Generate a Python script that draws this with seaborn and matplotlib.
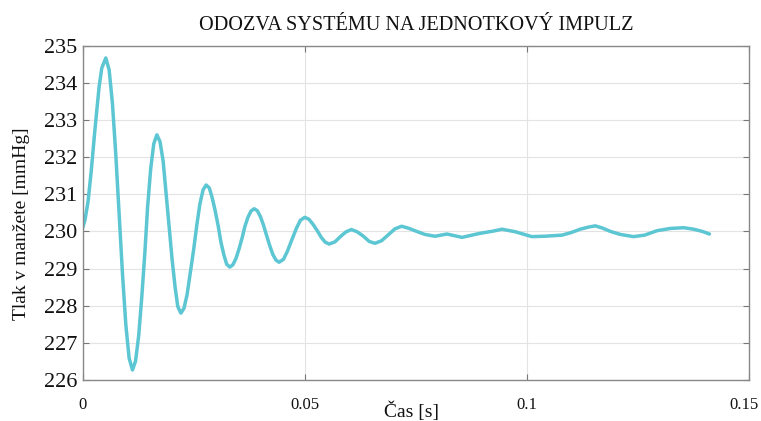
import matplotlib
matplotlib.use("Agg")
import matplotlib.pyplot as plt
import matplotlib.transforms as mtransforms
import seaborn as sns
import pandas as pd

# Time [s] and pressure [mmHg]
time_s = [
    0.0, 0.0005, 0.0012, 0.0019, 0.0028, 0.0037, 0.0043, 0.0052,
    0.00595, 0.0067, 0.00745, 0.0082, 0.00895, 0.0097, 0.01045, 0.0112,
    0.0119, 0.0126, 0.0133, 0.0140, 0.0146, 0.0153, 0.0160, 0.0167,
    0.0174, 0.0181, 0.0187, 0.0194, 0.0201, 0.0208, 0.0214, 0.0221,
    0.0228, 0.0235, 0.0242, 0.0250, 0.0257, 0.0264, 0.0271, 0.0278,
    0.0285, 0.0291, 0.0298, 0.0305, 0.0311, 0.0318, 0.0324, 0.0331,
    0.0338, 0.0345, 0.0352, 0.0359, 0.0365, 0.0372, 0.0379, 0.0386,
    0.0393, 0.0400, 0.0407, 0.0414, 0.0421, 0.0428, 0.0435, 0.0442,
    0.0452, 0.0461, 0.0471, 0.0481, 0.0490, 0.0500,
    0.0509, 0.0518, 0.0528, 0.0537, 0.0546, 0.0555,
    0.0568, 0.0580, 0.0593, 0.0605,
    0.0618, 0.0632, 0.0645, 0.0658,
    0.0673, 0.0688, 0.0703, 0.0718,
    0.0735, 0.0752, 0.0770, 0.0793, 0.0820, 0.0854, 0.0895, 0.0925,
    0.0944, 0.0974, 0.1011, 0.1040, 0.1079, 0.1100, 0.1120, 0.1140,
    0.1154, 0.1170, 0.1188, 0.1210, 0.1240, 0.1265, 0.1293, 0.1323,
    0.1353, 0.1375, 0.1395, 0.1411,
]
pressure_mmhg = [
    230.10, 230.30, 230.80, 231.60, 232.80, 233.90, 234.40, 234.67,
    234.35, 233.44, 232.07, 230.47, 228.87, 227.50, 226.59, 226.27,
    226.51, 227.19, 228.23, 229.44, 230.64, 231.68, 232.36, 232.60,
    232.42, 231.90, 231.12, 230.20, 229.28, 228.50, 227.98, 227.80,
    227.93, 228.30, 228.87, 229.53, 230.18, 230.75, 231.12, 231.25,
    231.17, 230.93, 230.57, 230.15, 229.72, 229.36, 229.12, 229.04,
    229.10, 229.27, 229.53, 229.83, 230.13, 230.38, 230.55, 230.61,
    230.56, 230.40, 230.17, 229.89, 229.62, 229.38, 229.23, 229.17,
    229.25, 229.47, 229.78, 230.08, 230.30, 230.38,
    230.33, 230.20, 230.02, 229.84, 229.71, 229.66,
    229.72, 229.86, 229.99, 230.05,
    229.99, 229.87, 229.73, 229.68,
    229.75, 229.91, 230.07, 230.14,
    230.08, 230.00, 229.92, 229.87, 229.93, 229.84, 229.95, 230.01,
    230.06, 229.99, 229.86, 229.87, 229.90, 229.97, 230.06, 230.12,
    230.15, 230.09, 230.00, 229.92, 229.86, 229.90, 230.02, 230.08,
    230.10, 230.06, 230.00, 229.93,
]

x_ticks = [0, 0.05, 0.1, 0.15]
x_tick_labels = ["0", "0.05", "0.1", "0.15"]
y_ticks = [226, 227, 228, 229, 230, 231, 232, 233, 234, 235]

title = "ODOZVA SYSTÉMU NA JEDNOTKOVÝ IMPULZ"
x_label = "Čas [s]"
y_label = "Tlak v manžete [mmHg]"

df = pd.DataFrame({"t": time_s, "p": pressure_mmhg})

sns.set_theme(style="white")
plt.rcParams["font.family"] = ["Liberation Serif", "DejaVu Serif"]

fig = plt.figure(figsize=(7.61, 4.21), dpi=100)
ax = fig.add_axes([82.7 / 761, 1 - 380 / 421, (749 - 82.7) / 761, (380 - 45.7) / 421])

sns.lineplot(data=df, x="t", y="p", ax=ax, color="#5CC6D3", linewidth=2.5,
             sort=False, estimator=None)

ax.set_xlim(0, 0.15)
ax.set_ylim(226, 235)
ax.set_xticks(x_ticks)
ax.set_xticklabels(x_tick_labels, fontsize=12)
ax.set_yticks(y_ticks)
ax.set_yticklabels([str(v) for v in y_ticks], fontsize=16)

ax.grid(True, color="#e3e3e3", linewidth=0.8)
for s in ax.spines.values():
    s.set_color("#888888")
    s.set_linewidth(1.0)
    s.set_visible(True)

ax.tick_params(axis="both", direction="in", length=4, width=0.8, color="#777777",
               top=True, right=True, bottom=True, left=True,
               labelcolor="#111111")
ax.tick_params(axis="x", pad=12)
ax.tick_params(axis="y", pad=4)

# nudge last x tick label inwards so it stays inside the canvas
last = ax.get_xticklabels()[-1]
last.set_transform(last.get_transform() +
                   mtransforms.ScaledTranslation(-5 / 100, 0, fig.dpi_scale_trans))

ax.set_title(title, fontsize=14.6, color="#111111", pad=11)
ax.set_xlabel(x_label, fontsize=14, color="#111111", va="center")
ax.set_ylabel(y_label, fontsize=14, color="#111111", va="center")
ax.xaxis.set_label_coords((412 - 82.7) / 666.3, -(411 - 380) / 334.3)
ax.yaxis.set_label_coords(-(82.7 - 22) / 666.3, 0.468)

fig.savefig("out.png", dpi=100, facecolor="white")
